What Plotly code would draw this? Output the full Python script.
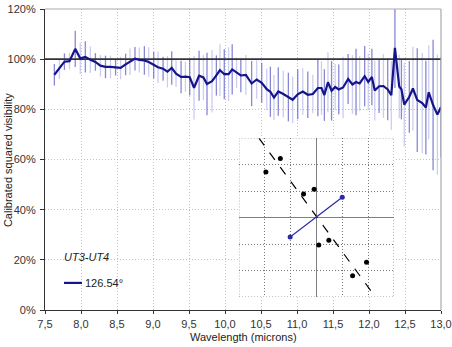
"""Calibrated squared visibility vs wavelength, UT3-UT4 baseline, with uv inset."""

import plotly.graph_objects as go

# main spectrum (wavelength in microns, visibility in %)
WAVELENGTH = [
    7.63, 7.70, 7.77, 7.84, 7.92, 7.99, 8.06, 8.13, 8.20, 8.27,
    8.34, 8.41, 8.48, 8.55, 8.62, 8.68, 8.75, 8.81, 8.88, 8.94,
    9.01, 9.07, 9.14, 9.20, 9.26, 9.32, 9.39, 9.45, 9.51, 9.57,
    9.64, 9.70, 9.75, 9.82, 9.88, 9.93, 9.99, 10.05,
    10.10, 10.16, 10.22, 10.29, 10.37, 10.44, 10.51, 10.58, 10.63, 10.68,
    10.74, 10.81, 10.88, 10.94, 11.01, 11.08, 11.15, 11.22, 11.29, 11.34,
    11.38, 11.43, 11.48, 11.53, 11.58, 11.64, 11.71, 11.77, 11.82, 11.87,
    11.94, 11.99, 12.04, 12.08, 12.14, 12.20, 12.26, 12.31, 12.36, 12.42,
    12.45, 12.49, 12.56, 12.61, 12.67, 12.74, 12.79, 12.83, 12.89, 12.95,
    13.00,
]
VISIBILITY = [
    93.8, 96.2, 99.0, 99.2, 104.1, 100.3, 100.9, 99.8, 98.9, 97.4,
    96.9, 96.9, 96.8, 96.5, 97.9, 99.0, 100.2, 99.7, 99.5, 98.9,
    97.6, 96.8, 96.2, 95.0, 96.5, 94.2, 92.9, 93.0, 92.8, 88.6,
    93.4, 92.7, 90.1, 91.2, 93.5, 95.6, 94.0, 94.0,
    95.9, 94.6, 93.5, 93.7, 90.3, 91.9, 90.6, 88.0, 87.0, 84.7,
    87.1, 86.1, 84.9, 83.8, 86.0, 87.1, 85.8, 86.1, 88.5, 88.5,
    85.7, 90.8, 87.4, 88.9, 87.9, 88.7, 92.1, 89.9, 90.9, 90.3,
    93.2, 90.9, 92.9, 87.5, 89.2, 89.3, 87.9, 85.6, 104.5, 89.1,
    88.0, 81.9, 85.0, 88.3, 83.7, 82.5, 80.7, 86.8, 81.7, 77.9,
    80.9,
]
ERROR = [
    4.3, 4.1, 3.3, 3.3, 7.2, 6.2, 6.2, 5.3, 3.5, 4.3,
    4.5, 4.5, 3.3, 4.5, 4.3, 5.3, 4.7, 5.0, 5.7, 5.9,
    5.3, 6.3, 4.8, 6.3, 6.7, 5.3, 6.5, 6.0, 7.3, 12.7,
    10.0, 9.0, 12.5, 12.5, 8.0, 10.3, 10.0, 10.7,
    10.0, 6.0, 6.7, 8.0, 9.0, 7.7, 8.0, 8.3, 10.0, 9.0,
    9.7, 9.3, 9.7, 9.3, 10.0, 9.3, 9.3, 7.7, 11.3, 10.7,
    10.3, 12.0, 11.9, 9.3, 10.0, 12.3, 10.0, 11.7, 13.3, 11.0,
    12.0, 11.3, 11.3, 12.0, 10.7, 12.7, 12.3, 13.7, 16.0, 12.7,
    12.0, 16.7, 14.3, 16.7, 20.7, 20.0, 18.7, 18.7, 26.0, 24.0,
    20.0,
]

# inset (uv plane, grid units)
POINTS_U = [-1.96, -1.40, -0.50, -0.09, 0.09, 0.48, 1.40, 1.94]
POINTS_V = [1.72, 2.23, 0.89, 1.07, -1.03, -0.86, -2.20, -1.69]
BASELINE_U = [-1.02, 1.00]
BASELINE_V = [-0.73, 0.77]
FIT_U = [-2.23, 2.19]
FIT_V = [3.00, -2.87]

NAVY = "#14148c"
FONT = "Liberation Sans, Arial, sans-serif"
DOTS = "1px,2px"

fig = go.Figure()

even = list(range(0, len(WAVELENGTH), 2))
odd = list(range(1, len(WAVELENGTH), 2))
for idx, col in ((even, "rgba(70,70,190,0.65)"), (odd, "rgba(130,130,215,0.4)")):
    fig.add_trace(go.Scatter(
        x=[WAVELENGTH[i] for i in idx],
        y=[VISIBILITY[i] for i in idx],
        mode="markers",
        marker=dict(size=1, color="rgba(0,0,0,0)"),
        error_y=dict(type="data", array=[ERROR[i] for i in idx], color=col, thickness=1.3, width=0),
        showlegend=False,
        hoverinfo="skip",
    ))

fig.add_trace(go.Scatter(
    x=[7.5, 13.0], y=[100, 100], mode="lines",
    line=dict(color="#333333", width=1.6), showlegend=False, hoverinfo="skip",
))

fig.add_trace(go.Scatter(
    x=WAVELENGTH, y=VISIBILITY, mode="lines", name="126.54°",
    line=dict(color=NAVY, width=2.2), showlegend=False,
))

# inset traces
fig.add_trace(go.Scatter(
    x=FIT_U, y=FIT_V, mode="lines", xaxis="x2", yaxis="y2",
    line=dict(color="black", width=1.2, dash="dash"), showlegend=False,
))
fig.add_trace(go.Scatter(
    x=BASELINE_U, y=BASELINE_V, mode="lines+markers", xaxis="x2", yaxis="y2",
    line=dict(color="#2a2aa8", width=1.2), marker=dict(size=5, color="#2a2aa8"),
    showlegend=False,
))
fig.add_trace(go.Scatter(
    x=POINTS_U, y=POINTS_V, mode="markers", xaxis="x2", yaxis="y2",
    marker=dict(size=5, color="black"), showlegend=False,
))

# white backing for inset, border lines
fig.add_shape(type="rect", xref="x", yref="y", x0=10.194, x1=12.347, y0=5.2, y1=68.8,
              fillcolor="white", line=dict(width=0), layer="between")
fig.add_shape(type="rect", xref="x2", yref="y2", x0=-3, x1=3, y0=-3, y1=3,
              line=dict(color="#777777", width=1, dash=DOTS))
fig.add_shape(type="line", xref="paper", yref="paper", x0=0, x1=1, y0=1, y1=1,
              line=dict(color="#aaaaaa", width=1.2))
fig.add_shape(type="line", xref="paper", yref="paper", x0=1, x1=1, y0=0, y1=1,
              line=dict(color="#aaaaaa", width=1.2))

# legend-like labels
fig.add_annotation(x=7.736, y=21.2, xref="x", yref="y", text="<i>UT3-UT4</i>",
                   showarrow=False, xanchor="left", yanchor="middle",
                   font=dict(size=11, color="#222", family=FONT))
fig.add_shape(type="line", xref="x", yref="y", x0=7.764, x1=8.014, y0=10.8, y1=10.8,
              line=dict(color=NAVY, width=2.2))
fig.add_annotation(x=8.03, y=10.8, xref="x", yref="y", text="126.54°",
                   showarrow=False, xanchor="left", yanchor="middle",
                   font=dict(size=11, color="#222", family=FONT))

# axis titles
fig.add_annotation(x=-0.0934, y=0.498, xref="paper", yref="paper", text="Calibrated squared visibility",
                   showarrow=False, textangle=-90, xanchor="center", yanchor="middle",
                   font=dict(size=11, color="#222", family=FONT))
fig.add_annotation(x=0.5, y=-0.0897, xref="paper", yref="paper", text="Wavelength (microns)",
                   showarrow=False, xanchor="center", yanchor="middle",
                   font=dict(size=11, color="#222", family=FONT))

fig.update_layout(
    width=452,
    height=347,
    margin=dict(l=45, r=11, t=9, b=37),
    paper_bgcolor="white",
    plot_bgcolor="white",
    separators=",.",
    font=dict(family=FONT, size=11, color="#333333"),
    xaxis=dict(
        range=[7.5, 13.0], tick0=7.5, dtick=0.5, tickformat=".1f",
        showgrid=True, gridcolor="#c4c4c4", griddash=DOTS, gridwidth=1,
        showline=True, linecolor="#333333", linewidth=1.2,
        ticks="outside", ticklen=3, tickcolor="#333333", ticklabelstandoff=1,
        zeroline=False, automargin=False,
    ),
    yaxis=dict(
        range=[0, 120], dtick=20, ticksuffix="%",
        showgrid=True, gridcolor="#c4c4c4", griddash=DOTS, gridwidth=1,
        showline=True, linecolor="#333333", linewidth=1.2,
        ticks="outside", ticklen=4, tickcolor="#333333", ticklabelstandoff=2,
        zeroline=False, automargin=False,
    ),
    xaxis2=dict(
        domain=[0.490, 0.881], anchor="y2", range=[-3, 3], dtick=1,
        showgrid=True, gridcolor="#777777", griddash=DOTS, gridwidth=1,
        zeroline=True, zerolinecolor="#808080", zerolinewidth=1,
        showticklabels=False, ticks="", showline=False,
    ),
    yaxis2=dict(
        domain=[0.043, 0.571], anchor="x2", range=[-3, 3], dtick=1,
        showgrid=True, gridcolor="#777777", griddash=DOTS, gridwidth=1,
        zeroline=True, zerolinecolor="#808080", zerolinewidth=1,
        showticklabels=False, ticks="", showline=False,
    ),
)

# page body has a default 8px margin; drop it so the figure sits at the window origin
fig.write_html(
    "out.html",
    config={"displayModeBar": False},
    post_script="document.body.style.margin='0';",
)
